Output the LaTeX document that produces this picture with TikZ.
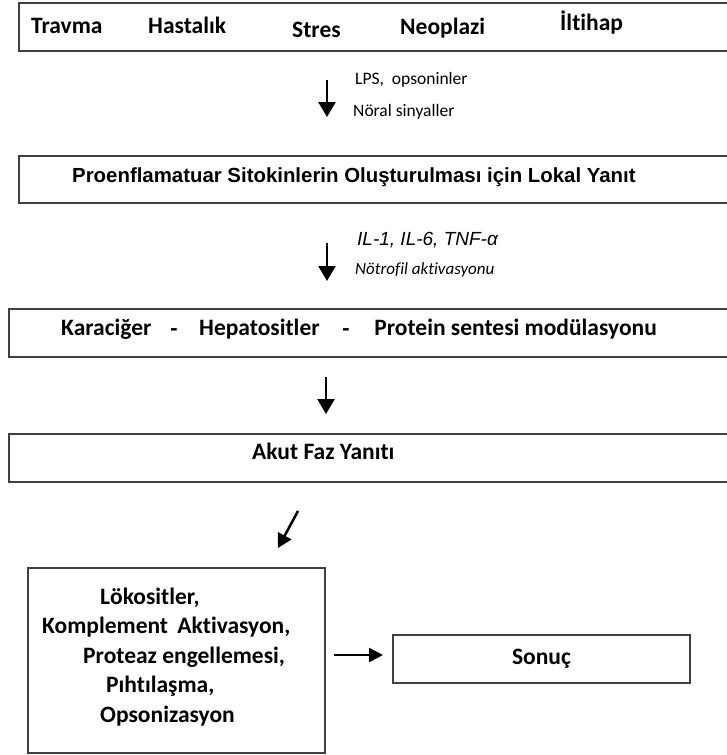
\documentclass[tikz,border=0pt]{standalone}
\usepackage{fontspec}
\setmainfont[Ligatures=NoCommon]{Carlito}
\newfontfamily\arialfont{Liberation Sans}
\usetikzlibrary{arrows.meta}
\tikzset{
  box/.style={draw=black!75, line width=1.3pt, inner sep=0pt},
  lbl/.style={inner sep=0pt, anchor=mid west, text=black},
  flowarrow/.style={line width=2.5pt, -{Triangle[length=15pt,width=17pt]}},
  bigtxt/.style={font=\bfseries\fontsize{23.5}{28}\selectfont},
}
\begin{document}
\begin{tikzpicture}[x=1pt,y=-1pt]
\useasboundingbox (0,0) rectangle (727,755);
\clip (0,0) rectangle (727,755);
% boxes
\node[box, minimum width=716pt, minimum height=48pt] (b1) at (377,27) {};
\node[box, minimum width=716pt, minimum height=47pt] (b2) at (377,179.5) {};
\node[box, minimum width=726pt, minimum height=48pt] (b3) at (372,333) {};
\node[box, minimum width=726pt, minimum height=48pt] (b4) at (372,458) {};
\node[box, minimum width=297pt, minimum height=185pt] (b5) at (176.5,660.5) {};
\node[box, minimum width=297pt, minimum height=48pt, bigtxt] (b6) at (541.5,659) {Sonuç};
% top row
\node[lbl, bigtxt] (t1) at (31,31) {Travma};
\node[lbl, bigtxt] (t2) at (148,31) {Hastalık};
\node[lbl, bigtxt] (t3) at (292,35) {Stres};
\node[lbl, bigtxt] (t4) at (400,32) {Neoplazi};
\node[lbl, bigtxt] (t5) at (560,28) {İltihap};
% arrow 1
\coordinate (a1s) at (327,80);
\coordinate (a1e) at (327,117);
\draw[flowarrow] (a1s) -- (a1e);
\node[lbl, font=\fontsize{17.5}{21}\selectfont] (lps) at (355,82) {LPS,\ \ opsoninler};
\node[lbl, font=\fontsize{17.5}{21}\selectfont] (noral) at (353,114) {Nöral sinyaller};
% box 2 text
\node[lbl, font=\arialfont\bfseries\fontsize{20.4}{24}\selectfont] (t6) at (72,180) {Proenflamatuar Sitokinlerin Oluşturulması için Lokal Yanıt};
% arrow 2
\coordinate (a2s) at (327,243);
\coordinate (a2e) at (327,281);
\draw[flowarrow] (a2s) -- (a2e);
\node[lbl, font=\arialfont\itshape\fontsize{19}{23}\selectfont] (il) at (357,243) {IL-1, IL-6, TNF-α};
\node[lbl, font=\itshape\fontsize{17}{21}\selectfont] (notr) at (355,272) {Nötrofil aktivasyonu};
% box 3 text
\node[lbl, bigtxt] (t7a) at (61,333) {Karaciğer};
\node[inner sep=0pt, bigtxt] (t7b) at (174,333) {-};
\node[lbl, bigtxt] (t7c) at (199,333) {Hepatositler};
\node[inner sep=0pt, bigtxt] (t7d) at (346,333) {-};
\node[inner sep=0pt, anchor=mid east, bigtxt] (t7e) at (657,333) {Protein sentesi modülasyonu};
% arrow 3
\coordinate (a3s) at (326,377);
\coordinate (a3e) at (326,414);
\draw[flowarrow] (a3s) -- (a3e);
% box 4 text
\node[lbl, bigtxt] (t8) at (252,457) {Akut Faz Yanıtı};
% arrow 4
\coordinate (a4s) at (298,511);
\coordinate (a4e) at (278,548);
\draw[line width=2.5pt, -{Triangle[length=14pt,width=15pt]}] (a4s) -- (a4e);
% box 5 text
\node[lbl, bigtxt] (l1) at (100,602) {Lökositler,};
\node[lbl, bigtxt] (l2) at (42,631.5) {Komplement\hspace{4pt} Aktivasyon,};
\node[lbl, bigtxt] (l3) at (83,661) {Proteaz engellemesi,};
\node[lbl, bigtxt] (l4) at (106,690.5) {Pıhtılaşma,};
\node[lbl, bigtxt] (l5) at (100,720) {Opsonizasyon};
% arrow 5
\coordinate (a5s) at (334,655);
\coordinate (a5e) at (383,655);
\draw[line width=2.5pt, -{Triangle[length=14pt,width=14pt]}] (a5s) -- (a5e);
\end{tikzpicture}
\end{document}
